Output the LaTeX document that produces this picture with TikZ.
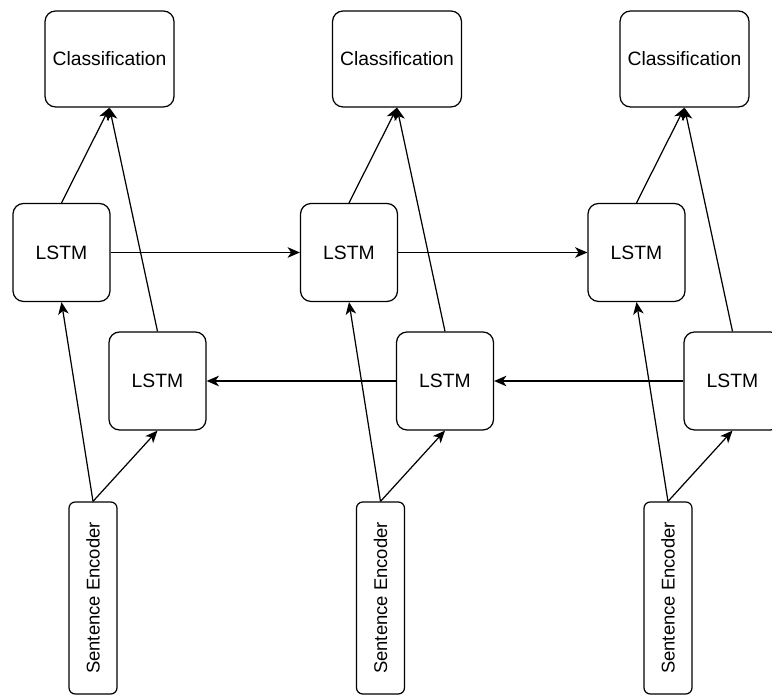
\documentclass[tikz,border=0pt]{standalone}
\usepackage{fontspec}
\setmainfont{Liberation Sans}
\usepackage{tikz}
\usetikzlibrary{arrows.meta, positioning}
\tikzset{
  box/.style={draw, line width=0.7pt, rounded corners=6pt, inner sep=0pt,
    fill=white, font=\fontsize{11}{13}\selectfont},
  clsbox/.style={box, minimum width=2.58cm, minimum height=1.92cm},
  lstmbox/.style={box, minimum width=1.94cm, minimum height=1.96cm},
  encbox/.style={box, rounded corners=3.5pt, minimum width=0.96cm,
    minimum height=3.84cm, font=\fontsize{10.5}{12.5}\selectfont},
  link/.style={line width=0.7pt, -{Stealth[length=7pt, width=6pt, inset=2pt]}}
}

\begin{document}
\begin{tikzpicture}[x=0.02cm, y=-0.02cm]
    \clip (0,0) rectangle (772,695);
    % Three time steps
    \foreach \i [evaluate=\i as \dx using {287.5*(\i-1)}] in {1,2,3} {
      \node[clsbox] (cls\i) at ({109.5+\dx},59) {Classification};
      \node[lstmbox] (top\i) at ({61.5+\dx},252.5) {LSTM};
      \node[lstmbox] (bot\i) at ({157.5+\dx},381) {LSTM};
      \node[encbox] (enc\i) at ({93+\dx},598) {\rotatebox{90}{Sentence Encoder}};
    }
    % Upward links
    \foreach \i in {1,2,3} {
      \draw[link] (top\i.north) -- (cls\i.south);
      \draw[link] (bot\i.north) -- (cls\i.south);
      \draw[link] (enc\i.north) -- (top\i.south);
      \draw[link] (enc\i.north) -- (bot\i.south);
    }
    % Forward and backward links
    \foreach \i/\j in {1/2,2/3} {
      \draw[link] (top\i.east) -- (top\j.west);
      \draw[link] (bot\j.west) -- (bot\i.east);
    }
\end{tikzpicture}
\end{document}
